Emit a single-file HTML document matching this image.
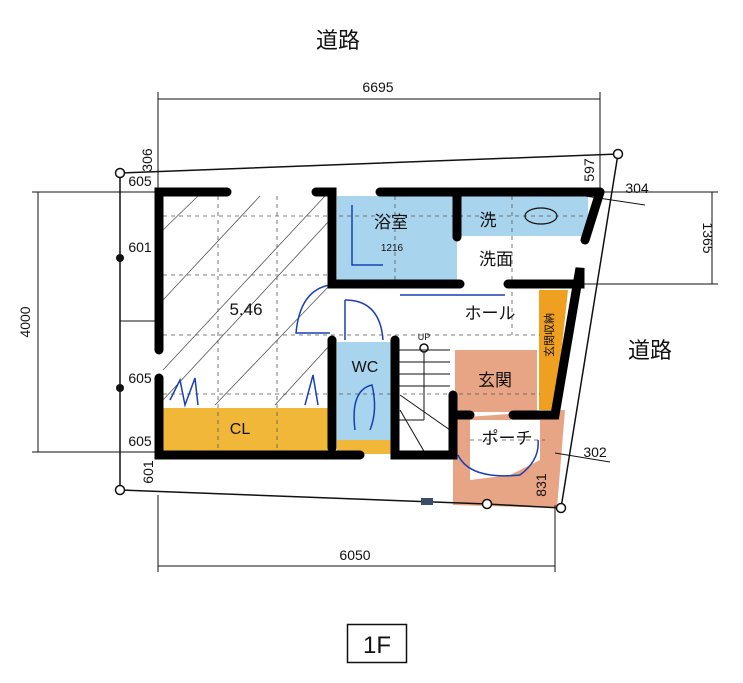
<!DOCTYPE html>
<html><head><meta charset="utf-8"><style>
html,body{margin:0;padding:0;background:#fff;width:743px;height:683px;overflow:hidden}
svg text{font-family:"Liberation Sans","Noto Sans CJK JP",sans-serif;fill:#111}
</style></head><body>
<svg width="743" height="683" viewBox="0 0 743 683" xmlns="http://www.w3.org/2000/svg">
<!-- fills -->
<rect x="337" y="196" width="120" height="86" fill="#a9d4ee"/>
<rect x="460" y="196" width="128" height="40" fill="#a9d4ee"/>
<rect x="337" y="342" width="55" height="100" fill="#a9d4ee"/>
<rect x="163" y="408" width="168" height="44" fill="#f0b738"/>
<rect x="337" y="440" width="55" height="14" fill="#f0b738"/>
<polygon points="539,290 568,290 555,410 539,410" fill="#f0a020"/>
<rect x="455" y="350" width="82" height="62" fill="#e8a586"/>
<polygon points="453,418 565,410 557,508 453,505" fill="#e8a586"/>
<polygon points="470,420 540,420 540,460 510,475 470,480" fill="#fff"/>
<!-- hatching -->
<g stroke="#555" stroke-width="0.8">
<line x1="163" y1="230" x2="198" y2="196"/><line x1="163" y1="300" x2="260" y2="196"/>
<line x1="163" y1="370" x2="325" y2="196"/><line x1="163" y1="400" x2="330" y2="220"/>
<line x1="215" y1="405" x2="330" y2="285"/><line x1="275" y1="405" x2="330" y2="345"/>
</g>
<!-- dashed grid -->
<g stroke="#555" stroke-width="0.8" stroke-dasharray="4,4" fill="none">
<line x1="163" y1="216" x2="585" y2="216"/><line x1="163" y1="275" x2="330" y2="275"/>
<line x1="163" y1="335" x2="540" y2="335"/><line x1="163" y1="394" x2="540" y2="394"/>
<line x1="218" y1="196" x2="218" y2="452"/><line x1="277" y1="196" x2="277" y2="452"/>
<line x1="395" y1="196" x2="395" y2="280"/><line x1="512" y1="196" x2="512" y2="335"/>
<line x1="470" y1="440" x2="545" y2="440"/>
</g>
<!-- property lines -->
<g stroke="#111" stroke-width="1.5" fill="none">
<polyline points="120,173 618,154 561,508 487,504 120,490 120,173"/>
</g>
<g fill="#fff" stroke="#111" stroke-width="1.5">
<circle cx="120" cy="173" r="4.5"/><circle cx="618" cy="154" r="4.5"/><circle cx="561" cy="508" r="4.5"/><circle cx="487" cy="504" r="4.5"/><circle cx="120" cy="490" r="4.5"/>
<circle cx="424" cy="348" r="4"/>
</g>
<g fill="#111"><circle cx="120" cy="258" r="4"/><circle cx="120" cy="388" r="4"/></g>
<!-- dimension lines -->
<g stroke="#111" stroke-width="1" fill="none">
<line x1="158" y1="99" x2="600" y2="99"/><line x1="158" y1="92" x2="158" y2="190"/><line x1="600" y1="92" x2="600" y2="190"/>
<line x1="158" y1="566" x2="555" y2="566"/><line x1="158" y1="495" x2="158" y2="572"/><line x1="555" y1="505" x2="555" y2="572"/>
<line x1="38" y1="192" x2="38" y2="452"/><line x1="32" y1="192" x2="160" y2="192"/><line x1="32" y1="452" x2="160" y2="452"/>
<line x1="712" y1="192" x2="712" y2="284"/><line x1="600" y1="192" x2="718" y2="192"/><line x1="580" y1="284" x2="718" y2="284"/>
<line x1="585" y1="196" x2="645" y2="205"/><line x1="555" y1="453" x2="610" y2="462"/>
<line x1="120" y1="321" x2="160" y2="321"/>
</g>
<!-- stairs -->
<g stroke="#111" stroke-width="1" fill="none">
<line x1="398" y1="350" x2="450" y2="350"/><line x1="398" y1="362" x2="450" y2="362"/><line x1="398" y1="374" x2="450" y2="374"/><line x1="398" y1="386" x2="450" y2="386"/>
<line x1="424" y1="352" x2="424" y2="420"/><line x1="398" y1="420" x2="424" y2="420"/>
<line x1="400" y1="395" x2="450" y2="430"/><line x1="400" y1="410" x2="425" y2="453"/>
</g>
<!-- blue door swings -->
<g stroke="#1a3fb5" stroke-width="1.5" fill="none">
<path d="M330,285 Q300,290 296,333 L330,333"/>
<path d="M345,300 Q380,300 383,340"/><line x1="345" y1="300" x2="345" y2="340"/>
<path d="M355,430 Q350,390 372,385 Q378,410 370,430"/>
<path d="M400,295 L505,295"/><path d="M458,455 Q470,480 520,475 Q540,460 538,440"/>
<path d="M170,400 L180,380 L185,405 L195,378 L198,405"/><path d="M305,405 L313,375 L318,405"/>
<path d="M352,205 L352,265 L383,265"/>
</g>
<!-- walls -->
<g stroke="#000" stroke-width="9" stroke-linecap="round" fill="none">
<polyline points="227,192 159,192 159,350"/>
<polyline points="159,378 159,455 360,455"/>
<polyline points="316,192 332,192 332,284 460,284"/>
<line x1="380" y1="192" x2="600" y2="192"/>
<line x1="600" y1="192" x2="585" y2="240"/>
<polyline points="508,284 580,284 580,268 555,415 513,415"/>
<line x1="457" y1="192" x2="457" y2="237"/>
<line x1="332" y1="340" x2="332" y2="448"/>
<polyline points="395,340 395,455 453,455 453,395"/>
<line x1="453" y1="415" x2="470" y2="415"/>
</g>
<!-- labels -->
<text x="338" y="48" font-size="22" text-anchor="middle">道路</text>
<text x="650" y="358" font-size="22" text-anchor="middle">道路</text>
<text x="378" y="92" font-size="14" text-anchor="middle">6695</text>
<text x="355" y="560" font-size="14" text-anchor="middle">6050</text>
<text x="30" y="322" font-size="14" text-anchor="middle" transform="rotate(-90 30 322)">4000</text>
<text x="703" y="238" font-size="14" text-anchor="middle" transform="rotate(90 703 238)">1365</text>
<text x="140" y="186" font-size="14" text-anchor="middle">605</text>
<text x="140" y="252" font-size="14" text-anchor="middle">601</text>
<text x="140" y="383" font-size="14" text-anchor="middle">605</text>
<text x="140" y="446" font-size="14" text-anchor="middle">605</text>
<text x="152" y="160" font-size="14" text-anchor="middle" transform="rotate(-90 152 160)">306</text>
<text x="153" y="472" font-size="14" text-anchor="middle" transform="rotate(-90 153 472)">601</text>
<text x="594" y="170" font-size="14" text-anchor="middle" transform="rotate(-90 594 170)">597</text>
<text x="637" y="193" font-size="14" text-anchor="middle">304</text>
<text x="595" y="457" font-size="14" text-anchor="middle">302</text>
<text x="546" y="485" font-size="14" text-anchor="middle" transform="rotate(-90 546 485)">831</text>
<text x="391" y="228" font-size="17" text-anchor="middle">浴室</text>
<text x="392" y="251" font-size="10" text-anchor="middle">1216</text>
<text x="488" y="226" font-size="17" text-anchor="middle">洗</text>
<ellipse cx="541" cy="216" rx="16" ry="8" fill="none" stroke="#111" stroke-width="1.2"/>
<text x="496" y="265" font-size="17" text-anchor="middle">洗面</text>
<text x="246" y="315" font-size="17" text-anchor="middle">5.46</text>
<text x="490" y="319" font-size="17" text-anchor="middle">ホール</text>
<text x="424" y="340" font-size="9" text-anchor="middle">UP</text>
<text x="365" y="372" font-size="16" text-anchor="middle">WC</text>
<text x="495" y="386" font-size="17" text-anchor="middle">玄関</text>
<text x="240" y="434" font-size="16" text-anchor="middle">CL</text>
<text x="507" y="444" font-size="17" text-anchor="middle">ポーチ</text>
<text x="553" y="335" font-size="11" text-anchor="middle" transform="rotate(-90 553 335)">玄関収納</text>
<rect x="421" y="498" width="12" height="7" fill="#3a4f63"/>
<rect x="347.5" y="624.5" width="59" height="38" fill="none" stroke="#111" stroke-width="1.5"/>
<text x="377" y="653" font-size="24" text-anchor="middle">1F</text>
</svg>
</body></html>
